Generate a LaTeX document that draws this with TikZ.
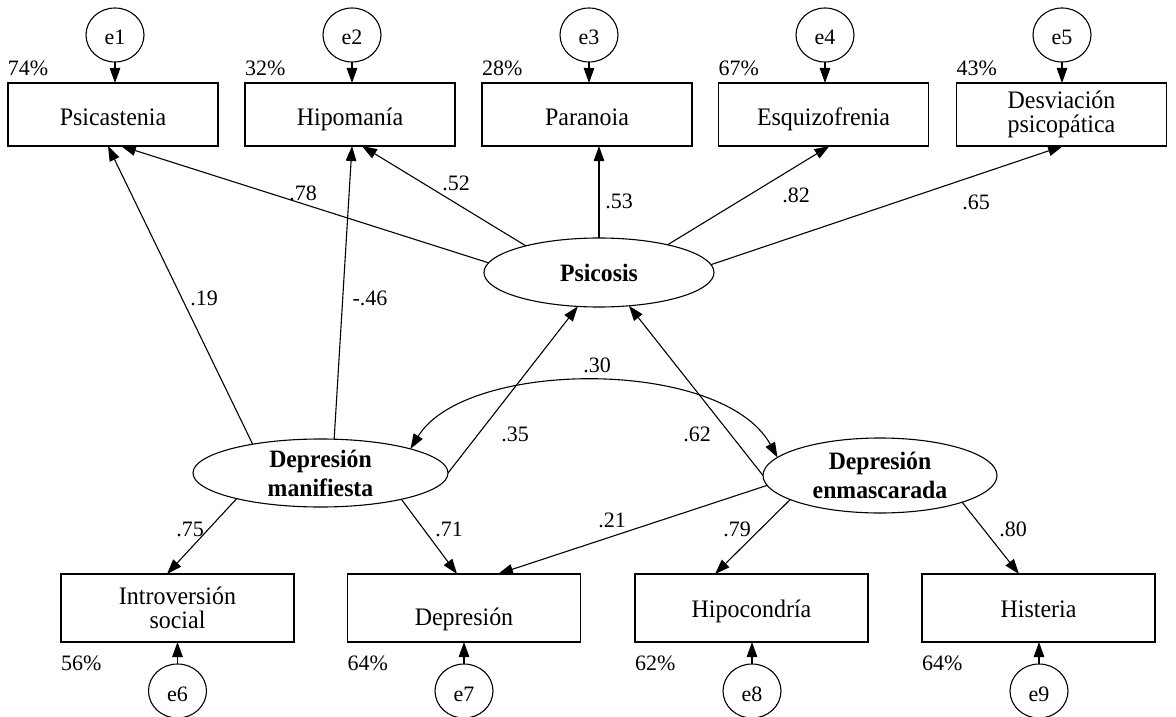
\documentclass[tikz,border=0pt]{standalone}
\usepackage{fontspec}
\setmainfont{Liberation Serif}
\newfontfamily\condfont{Liberation Serif}[FakeStretch=0.95]
\usetikzlibrary{arrows.meta,shapes.geometric,calc}
\begin{document}
\begin{tikzpicture}[x=1pt,y=-1pt,
  every node/.style={inner sep=0pt, outer sep=0pt},
  obs/.style={draw, line width=1.1pt, minimum width=210pt, minimum height=63pt, align=center, font=\condfont\fontsize{25.2pt}{24.5pt}\selectfont},
  obsone/.style={obs, text height=22pt, text depth=0pt},
  obsb/.style={obs, minimum width=233pt, minimum height=68pt},
  obsbone/.style={obsb, text height=18pt, text depth=0pt},
  lat/.style={draw, ellipse, line width=1.1pt},
  lattext/.style={align=center, font=\condfont\fontsize{25pt}{29pt}\selectfont\bfseries},
  err/.style={draw, ellipse, line width=1.1pt, minimum width=58pt, minimum height=54pt, text height=20pt, text depth=0pt, font=\fontsize{22pt}{26pt}\selectfont},
  coef/.style={font=\fontsize{22pt}{26pt}\selectfont},
  pct/.style={font=\fontsize{22pt}{26pt}\selectfont, anchor=base west},
  arr/.style={line width=1.1pt, -{Triangle[length=15pt,width=10.5pt]}},
  arrtwo/.style={line width=1.1pt, {Triangle[length=15pt,width=10.5pt]}-{Triangle[length=15pt,width=10.5pt]}},
]
\useasboundingbox (0,0) rectangle (1176,717);

% top observed boxes
\node[obsone] (b1) at (113,114.5) {Psicastenia};
\node[obsone] (b2) at (350,114.5) {Hipomanía};
\node[obsone] (b3) at (587,114.5) {Paranoia};
\node[obsone] (b4) at (823.5,114.5) {Esquizofrenia};
\node[obs] (b5) at (1061.5,114.5) {Desviación\\psicopática};

% bottom observed boxes
\node[obsb] (b6) at (177.5,608) {Introversión\\social};
\node[obsb, text height=34pt, text depth=0pt] (b7) at (464,608) {Depresión};
\node[obsbone] (b8) at (751.5,608) {Hipocondría};
\node[obsbone] (b9) at (1038.5,608) {Histeria};

% latent variables
\node[lat, minimum width=230pt, minimum height=69pt] (psi) at (599,272.5) {};
\node[lattext] (psit) at (psi) {Psicosis};
\node[lat, minimum width=255pt, minimum height=68pt] (dm) at (320.5,473) {};
\node[lattext] (dmt) at (dm) {Depresión\\manifiesta};
\node[lat, minimum width=234pt, minimum height=75pt] (de) at (880,475.5) {};
\node[lattext] (det) at (de) {Depresión\\enmascarada};

% error terms
\node[err] (e1) at (115,35) {e1};
\node[err] (e2) at (352,35) {e2};
\node[err] (e3) at (589,35) {e3};
\node[err] (e4) at (825,35) {e4};
\node[err] (e5) at (1062,35) {e5};
\node[err] (e6) at (177.5,691) {e6};
\node[err] (e7) at (464,691) {e7};
\node[err] (e8) at (752,691) {e8};
\node[err] (e9) at (1039,691) {e9};

\foreach \e/\b in {e1/b1,e2/b2,e3/b3,e4/b4,e5/b5}
  \draw[arr] (\e.south) -- (\e.south |- \b.north);
\foreach \e/\b in {e6/b6,e7/b7,e8/b8,e9/b9}
  \draw[arr] (\e.north) -- (\e.north |- \b.south);

% percentages
\node[pct] (p1) at ($(b1.north west)+(0,-7)$) {74\%};
\node[pct] (p2) at ($(b2.north west)+(0,-7)$) {32\%};
\node[pct] (p3) at ($(b3.north west)+(0,-7)$) {28\%};
\node[pct] (p4) at ($(b4.north west)+(0,-7)$) {67\%};
\node[pct] (p5) at ($(b5.north west)+(0,-7)$) {43\%};
\node[pct] (p6) at ($(b6.south west)+(0,28)$) {56\%};
\node[pct] (p7) at ($(b7.south west)+(0,28)$) {64\%};
\node[pct] (p8) at ($(b8.south west)+(0,28)$) {62\%};
\node[pct] (p9) at ($(b9.south west)+(0,28)$) {64\%};

% paths from Psicosis
\draw[arr] (psi.175) -- ($(b1.south)+(8,0)$);
\draw[arr] (psi.160) -- ($(b2.south)+(12,0)$);
\draw[arr] (psi.north) -- (psi.north |- b3.south);
\draw[arr] (psi.22) -- ($(b4.south)+(6,0)$);
\draw[arr] (psi.4) -- ($(b5.south)+(1.5,0)$);

% paths from Depresion manifiesta
\draw[arr] (dm.157) -- ($(b1.south)+(-5,0)$);
\draw[arr] (dm.68) -- ($(b2.south)+(2,0)$);
\draw[arr] (dm.east) -- (psi.238);
\draw[arr] (dm.197) -- ($(b6.north)+(-10.5,0)$);
\draw[arr] (dm.342) -- ($(b7.north)+(-7,0)$);

% paths from Depresion enmascarada
\draw[arr] (de.west) -- (psi.312);
\draw[arr] (de.185) -- ($(b7.north)+(34,0)$);
\draw[arr] (de.195) -- ($(b8.north)+(-36.5,0)$);
\draw[arr] (de.342.5) -- ($(b9.north)+(-19.5,0)$);

% covariance
\draw[arrtwo] (dm.15) .. controls +(55,-90) and +(-55,-100) .. (de.170);

% coefficients
\node[coef] (c1) at (303,193) {.78};
\node[coef] (c2) at (456,183) {.52};
\node[coef] (c3) at (619,201) {.53};
\node[coef] (c4) at (796,195) {.82};
\node[coef] (c5) at (976,202) {.65};
\node[coef] (c6) at (204,298) {.19};
\node[coef] (c7) at (370,298) {-.46};
\node[coef] (c8) at (597,365) {.30};
\node[coef] (c9) at (515,434) {.35};
\node[coef] (c10) at (697,434) {.62};
\node[coef] (c11) at (190,529) {.75};
\node[coef] (c12) at (449,529) {.71};
\node[coef] (c13) at (612,520) {.21};
\node[coef] (c14) at (737,529) {.79};
\node[coef] (c15) at (1013,529) {.80};
\end{tikzpicture}
\end{document}
